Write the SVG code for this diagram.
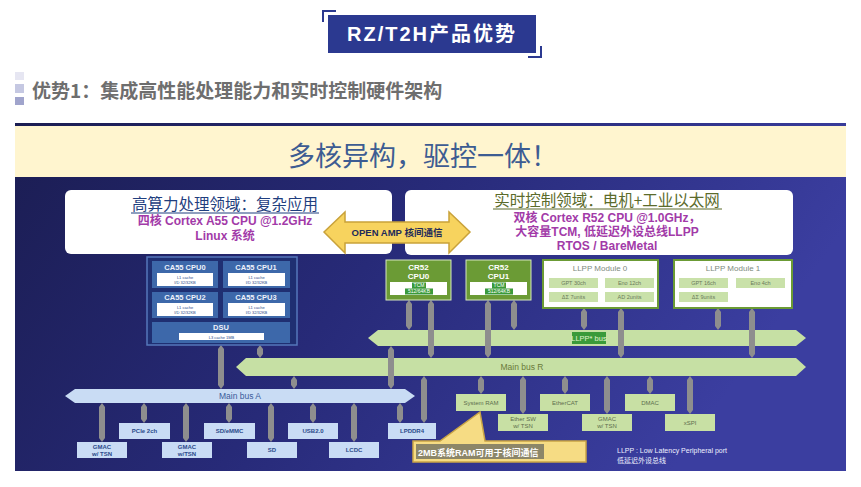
<svg xmlns="http://www.w3.org/2000/svg" width="861" height="487" viewBox="0 0 861 487">
<defs>
<linearGradient id="bg" x1="0" y1="0" x2="1" y2="0.3">
<stop offset="0" stop-color="#1b1d52"/>
<stop offset="0.5" stop-color="#272a78"/>
<stop offset="1" stop-color="#3b3ea0"/>
</linearGradient>
<style>
.cjk{font-family:"Noto Sans CJK SC","Liberation Sans",sans-serif}
.lat{font-family:"Liberation Sans","Noto Sans CJK SC",sans-serif}
.rod{fill:#8e8e8e}
.busg{fill:#c6e0a4}
.busb{fill:#c9dcf4}
.cell{fill:#3d68aa}
.wbox{fill:#ffffff}
.tiny{font-family:"Liberation Sans",sans-serif;font-size:4px;fill:#2a4a8a;text-anchor:middle}
.clab{font-family:"Liberation Sans",sans-serif;font-size:7.5px;font-weight:bold;fill:#eef2fa;text-anchor:middle}
.cr{fill:#6b9b35;stroke:#d8e8c0;stroke-width:1}
.crlab{font-family:"Liberation Sans",sans-serif;font-size:8px;font-weight:bold;fill:#ffffff;text-anchor:middle}
.hl{fill:#3a9a3a}
.hlt{font-family:"Liberation Sans",sans-serif;font-size:5px;fill:#ffffff;text-anchor:middle}
.mod{fill:#ffffff;stroke:#6b9b35;stroke-width:2}
.modt{font-family:"Liberation Sans",sans-serif;font-size:8px;fill:#7d8a7d;text-anchor:middle}
.sub{fill:#c9e1a9}
.subt{font-family:"Liberation Sans",sans-serif;font-size:5.5px;fill:#6a7a5a;text-anchor:middle}
.pb{fill:#c9dcf5}
.pbt{font-family:"Liberation Sans",sans-serif;font-size:6px;font-weight:bold;fill:#2a4a8a;text-anchor:middle}
.pg{fill:#c8e0a4}
.pgt{font-family:"Liberation Sans",sans-serif;font-size:6px;fill:#5d6d4d;text-anchor:middle}
.purple{font-family:"Liberation Sans","Noto Sans CJK SC",sans-serif;font-size:12px;font-weight:bold;fill:#a23aa8;text-anchor:middle}
</style>
</defs>

<!-- header -->
<g id="header">
<rect x="328" y="15" width="208" height="38" fill="#2b3990"/>
<path d="M323 22 V11 H336" fill="none" stroke="#2b3990" stroke-width="2"/>
<path d="M541 46 V57 H528" fill="none" stroke="#2b3990" stroke-width="2"/>
<text x="432" y="41" text-anchor="middle" font-size="20" font-weight="bold" letter-spacing="2" fill="#ffffff" class="lat">RZ/T2H产品优势</text>
</g>

<g id="subtitle">
<rect x="15" y="72" width="9" height="8" fill="#e6e6f2"/>
<rect x="15" y="84" width="9" height="9" fill="#c5c8e2"/>
<rect x="15" y="97" width="9" height="8" fill="#a0a4cc"/>
<text x="32" y="98" font-size="19" font-weight="bold" fill="#6e6e6e" class="cjk">优势1：集成高性能处理能力和实时控制硬件架构</text>
</g>

<!-- picture background -->
<g id="background">
<rect x="15" y="123" width="831" height="348" fill="url(#bg)"/>
<rect x="15" y="126" width="831" height="51" fill="#fff5cf"/>
<text x="423" y="166" text-anchor="middle" font-size="27" fill="#3d5c92" class="cjk">多核异构，驱控一体！</text>
</g>

<!-- domain boxes -->
<g id="left-domain">
<rect x="65" y="190" width="327" height="64" rx="6" fill="#ffffff"/>
<text x="225" y="210" text-anchor="middle" font-size="15.5" fill="#1f3e7e" class="cjk">高算力处理领域：复杂应用</text>
<line x1="131" y1="213" x2="319" y2="213" stroke="#1f3e7e" stroke-width="1"/>
<text x="225" y="225" class="purple">四核 Cortex A55 CPU @1.2GHz</text>
<text x="225" y="240" class="purple">Linux 系统</text>
</g>

<g id="right-domain">
<rect x="405" y="190" width="388" height="65" rx="6" fill="#ffffff"/>
<text x="607" y="206" text-anchor="middle" font-size="15.5" fill="#5b6b2b" class="cjk">实时控制领域：电机+工业以太网</text>
<line x1="493" y1="209" x2="722" y2="209" stroke="#5b6b2b" stroke-width="1"/>
<text x="607" y="222" class="purple">双核 Cortex R52 CPU @1.0GHz，</text>
<text x="607" y="236" class="purple">大容量TCM, 低延迟外设总线LLPP</text>
<text x="607" y="250" class="purple">RTOS / BareMetal</text>
</g>

<g id="open-amp">
<polygon points="324,232 345,212 345,222 449,222 449,212 470,232 449,253 449,243 345,243 345,253" fill="#f7d35e" stroke="#c9a23a" stroke-width="1.5"/>
<text x="397" y="236" text-anchor="middle" font-size="9.5" font-weight="bold" fill="#1e2a5a" class="lat">OPEN AMP 核间通信</text>
</g>

<!-- connectors -->
<g id="connectors">
<!-- buses -->
<polygon class="busg" points="368,338 378,330 796,330 806,338 796,346 378,346"/>
<polygon class="busg" points="236,367 246,358 796,358 806,367 796,376 246,376"/>
<polygon class="busb" points="65,396 75,389 405,389 415,396 405,403 75,403"/>
<!-- rods -->
<polygon class="rod" points="409,300 412,304 412,326 409,330 406,326 406,304"/>
<polygon class="rod" points="431,300 434,304 434,354 431,358 428,354 428,304"/>
<polygon class="rod" points="488,300 491,304 491,354 488,358 485,354 485,304"/>
<polygon class="rod" points="514,300 517,304 517,326 514,330 511,326 511,304"/>
<polygon class="rod" points="584,308 587,312 587,326 584,330 581,326 581,312"/>
<polygon class="rod" points="621,308 624,312 624,354 621,358 618,354 618,312"/>
<polygon class="rod" points="718,308 721,312 721,326 718,330 715,326 715,312"/>
<polygon class="rod" points="752,308 755,312 755,354 752,358 749,354 749,312"/>
<polygon class="rod" points="221,345 224,349 224,385 221,389 218,385 218,349"/>
<polygon class="rod" points="260,345 263,349 263,354 260,358 257,354 257,349"/>
<polygon class="rod" points="294,376 297,380 297,385 294,389 291,385 291,380"/>
<polygon class="rod" points="391,346 394,350 394,385 391,389 388,385 388,350"/>
<polygon class="rod" points="424,376 427,380 427,419 424,423 421,419 421,380"/>
<!-- below bus A -->
<polygon class="rod" points="102,403 105,407 105,438 102,442 99,438 99,407"/>
<polygon class="rod" points="144,403 147,407 147,419 144,423 141,419 141,407"/>
<polygon class="rod" points="186,403 189,407 189,438 186,442 183,438 183,407"/>
<polygon class="rod" points="229,403 232,407 232,419 229,423 226,419 226,407"/>
<polygon class="rod" points="271,403 274,407 274,438 271,442 268,438 268,407"/>
<polygon class="rod" points="313,403 316,407 316,419 313,423 310,419 310,407"/>
<polygon class="rod" points="354,403 357,407 357,438 354,442 351,438 351,407"/>
<polygon class="rod" points="400,403 403,407 403,419 400,423 397,419 397,407"/>
<!-- below bus R -->
<polygon class="rod" points="481,376 484,380 484,390 481,394 478,390 478,380"/>
<polygon class="rod" points="523,376 526,380 526,410 523,414 520,410 520,380"/>
<polygon class="rod" points="565,376 568,380 568,390 565,394 562,390 562,380"/>
<polygon class="rod" points="607,376 610,380 610,410 607,414 604,410 604,380"/>
<polygon class="rod" points="650,376 653,380 653,390 650,394 647,390 647,380"/>
<polygon class="rod" points="690,376 693,380 693,410 690,414 687,410 687,380"/>
<!-- bus labels -->
<rect x="572" y="332" width="34" height="12" class="hl"/>
<text x="589" y="341" text-anchor="middle" font-size="7.5" fill="#e0f4cc" class="lat">LLPP* bus</text>
<text x="522" y="370" text-anchor="middle" font-size="8.5" fill="#6a7a3a" class="lat">Main bus R</text>
<text x="240" y="399" text-anchor="middle" font-size="8.5" fill="#3a5a9a" class="lat">Main bus A</text>
</g>

<!-- CA55 cluster -->
<g id="ca55-cluster">
<rect x="147" y="257" width="150" height="88" fill="#1f2f72" stroke="#5577bb" stroke-width="1.5"/>
<rect x="152" y="261" width="66" height="27" class="cell"/>
<rect x="223" y="261" width="67" height="27" class="cell"/>
<rect x="152" y="292" width="66" height="26" class="cell"/>
<rect x="223" y="292" width="67" height="26" class="cell"/>
<rect x="152" y="322" width="138" height="21" class="cell"/>
<text x="185" y="270" class="clab">CA55 CPU0</text>
<text x="256" y="270" class="clab">CA55 CPU1</text>
<text x="185" y="300" class="clab">CA55 CPU2</text>
<text x="256" y="300" class="clab">CA55 CPU3</text>
<rect x="157" y="273" width="56" height="13" class="wbox"/>
<rect x="228" y="273" width="57" height="13" class="wbox"/>
<rect x="157" y="303" width="56" height="13" class="wbox"/>
<rect x="228" y="303" width="57" height="13" class="wbox"/>
<text x="185" y="278.5" class="tiny">L1 cache</text>
<text x="185" y="284" class="tiny">I/D 32/32KB</text>
<text x="256.5" y="278.5" class="tiny">L1 cache</text>
<text x="256.5" y="284" class="tiny">I/D 32/32KB</text>
<text x="185" y="308.5" class="tiny">L1 cache</text>
<text x="185" y="314" class="tiny">I/D 32/32KB</text>
<text x="256.5" y="308.5" class="tiny">L1 cache</text>
<text x="256.5" y="314" class="tiny">I/D 32/32KB</text>
<text x="221" y="330" class="clab">DSU</text>
<rect x="179" y="333" width="85" height="7" class="wbox"/>
<text x="221.5" y="338.5" class="tiny">L3 cache 1MB</text>
</g>

<!-- CR52 -->
<g id="cr52-cpu0">
<rect x="386" y="260" width="65" height="40" class="cr"/>
<text x="418.5" y="270" class="crlab">CR52</text>
<text x="418.5" y="279" class="crlab">CPU0</text>
<rect x="390" y="282" width="57" height="13" class="wbox"/>
<rect x="412" y="282.5" width="14" height="6" class="hl"/>
<rect x="405" y="288.5" width="28" height="6" class="hl"/>
<text x="419" y="287.3" class="hlt">TCM</text>
<text x="419" y="293.3" class="hlt">512/64KB</text>
</g>
<g id="cr52-cpu1">
<rect x="466" y="260" width="65" height="40" class="cr"/>
<text x="498.5" y="270" class="crlab">CR52</text>
<text x="498.5" y="279" class="crlab">CPU1</text>
<rect x="470" y="282" width="57" height="13" class="wbox"/>
<rect x="492" y="282.5" width="14" height="6" class="hl"/>
<rect x="485" y="288.5" width="28" height="6" class="hl"/>
<text x="499" y="287.3" class="hlt">TCM</text>
<text x="499" y="293.3" class="hlt">512/64KB</text>
</g>

<!-- LLPP modules -->
<g id="llpp-module0">
<rect x="543" y="260" width="115" height="48" class="mod"/>
<text x="600" y="271" class="modt">LLPP Module 0</text>
<rect x="549" y="278" width="49" height="10" class="sub"/>
<rect x="605" y="278" width="49" height="10" class="sub"/>
<rect x="549" y="292" width="49" height="10" class="sub"/>
<rect x="605" y="292" width="49" height="10" class="sub"/>
<text x="573.5" y="285" class="subt">GPT 30ch</text>
<text x="629.5" y="285" class="subt">Eno 12ch</text>
<text x="573.5" y="299" class="subt">ΔΣ 7units</text>
<text x="629.5" y="299" class="subt">AD 2units</text>
</g>
<g id="llpp-module1">
<rect x="674" y="260" width="118" height="48" class="mod"/>
<text x="733" y="271" class="modt">LLPP Module 1</text>
<rect x="679" y="278" width="49" height="10" class="sub"/>
<rect x="736" y="278" width="49" height="10" class="sub"/>
<rect x="679" y="292" width="49" height="10" class="sub"/>
<text x="703.5" y="285" class="subt">GPT 16ch</text>
<text x="760.5" y="285" class="subt">Eno 4ch</text>
<text x="703.5" y="299" class="subt">ΔΣ 9units</text>
</g>

<!-- peripherals bus A -->
<g id="pcie"><rect x="119" y="423" width="51" height="16" class="pb"/><text x="144.5" y="433" class="pbt">PCIe 2ch</text></g>
<g id="sdemmc"><rect x="204" y="423" width="51" height="16" class="pb"/><text x="229.5" y="433" class="pbt">SD/eMMC</text></g>
<g id="usb"><rect x="288" y="423" width="50" height="16" class="pb"/><text x="313" y="433" class="pbt">USB2.0</text></g>
<g id="lpddr4"><rect x="388" y="423" width="48" height="16" class="pb"/><text x="412" y="433" class="pbt">LPDDR4</text></g>
<g id="gmac-a1"><rect x="77" y="442" width="50" height="16" class="pb"/><text x="102" y="449" class="pbt">GMAC</text><text x="102" y="456" class="pbt">w/ TSN</text></g>
<g id="gmac-a2"><rect x="162" y="442" width="50" height="16" class="pb"/><text x="187" y="449" class="pbt">GMAC</text><text x="187" y="456" class="pbt">w/TSN</text></g>
<g id="sd"><rect x="247" y="442" width="50" height="16" class="pb"/><text x="272" y="452" class="pbt">SD</text></g>
<g id="lcdc"><rect x="329" y="442" width="50" height="16" class="pb"/><text x="354" y="452" class="pbt">LCDC</text></g>

<!-- peripherals bus R -->
<g id="sysram"><rect x="456" y="394" width="50" height="17" class="pg"/><text x="481" y="404.5" class="pgt">System RAM</text></g>
<g id="ethercat"><rect x="540" y="394" width="50" height="17" class="pg"/><text x="565" y="404.5" class="pgt">EtherCAT</text></g>
<g id="dmac"><rect x="625" y="394" width="50" height="17" class="pg"/><text x="650" y="404.5" class="pgt">DMAC</text></g>
<g id="ethersw"><rect x="498" y="414" width="50" height="17" class="pg"/><text x="523" y="421" class="pgt">Ether SW</text><text x="523" y="428" class="pgt">w/ TSN</text></g>
<g id="gmac-r"><rect x="582" y="414" width="50" height="17" class="pg"/><text x="607" y="421" class="pgt">GMAC</text><text x="607" y="428" class="pgt">w/ TSN</text></g>
<g id="xspi"><rect x="665" y="414" width="50" height="17" class="pg"/><text x="690" y="424.5" class="pgt">xSPI</text></g>

<!-- callout -->
<g id="callout">
<polygon points="413,441 440,441 480,412 485,441 586,441 586,462 413,462" fill="#f6dc84" stroke="#c9a445" stroke-width="1.5"/>
<rect x="416" y="444" width="128" height="15" fill="#8c8668"/>
<text x="418" y="455.5" font-size="9" font-weight="bold" fill="#ffffff" class="lat">2MB系统RAM可用于核间通信</text>
</g>

<g id="footnote">
<text x="617" y="453" font-size="7" fill="#eef0ff" class="lat">LLPP : Low Latency Peripheral port</text>
<text x="617" y="463" font-size="7" fill="#eef0ff" class="cjk">低延迟外设总线</text>
</g>
</svg>
